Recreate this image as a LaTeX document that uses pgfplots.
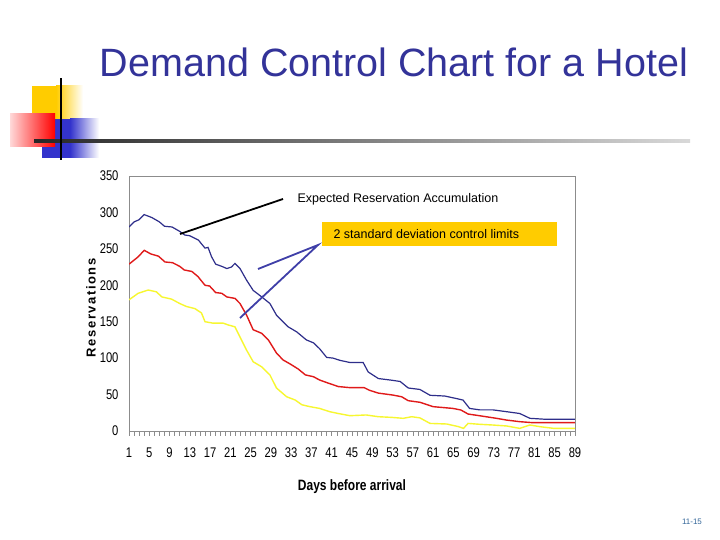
\documentclass[border=0pt]{standalone}
\usepackage{pgfplots}
\pgfplotsset{compat=1.18}
\usepackage{fontspec}
\setmainfont{Liberation Sans}
\newfontfamily\narrow[FakeStretch=0.8]{Liberation Sans}
\definecolor{navy}{HTML}{333399}
\definecolor{lineblue}{HTML}{2E2E8A}
\definecolor{linered}{HTML}{E01A1A}
\definecolor{lineyellow}{HTML}{F7F730}
\definecolor{boxyellow}{HTML}{FFCC00}
\definecolor{sqblue}{HTML}{3333CC}
\definecolor{arrowblue}{HTML}{3F3FA8}
\definecolor{pagenum}{HTML}{336699}

\pgfplotstableread{
day res
1 280
2 287
3 290
4 297
5.5 293
7 287
8 281
9.5 280
11 274
12 269
13 268
14.7 262
16 251
16.6 252
17.3 239
18.1 229
19.3 226
20.3 223
21.2 225
21.9 230
22.9 223
24.2 207
25.5 193
27.2 184
28.8 175
30.1 159
31.1 152
32.4 143
34.1 136
36 125
37.4 121
38.6 113
40 101
41.3 100
42.6 97
44.6 94
47.2 94
48.2 81
50.2 72
52.5 70
54.5 68
56.1 59
58.4 57
60.4 49
63.3 48
65.3 45
66.9 42.5
68.2 31
70.2 29
72.8 29
75.5 26.5
78.1 24
80.1 17.4
83.4 16
89 16
}\exptab

\pgfplotstableread{
day res
1 229
2.8 239
4 248
5.3 243
6.8 240
8.1 232
9.6 231
11 226
11.9 221
13.4 219
14.6 212
16 200
16.9 199
18.1 190
19.3 189
20.3 184
21.9 182
22.9 175
24.2 159
25.5 139
27.2 134
28.5 125
30.1 107
31.4 97.5
32.8 92
34.4 85
35.8 77
37.4 74.5
38.6 70
40.2 66
42.3 61
44.6 59.5
47.4 59.5
48.4 56
50.2 52
53 49.4
54.8 47
56.1 41.6
58.4 39.4
61 33.4
64.9 31
66.5 28.8
67.9 23.3
70.5 20.6
73.5 17.4
75.5 15
78.1 12.8
80.7 11.4
89 11.4
}\midtab

\pgfplotstableread{
day res
1 180
2.8 189
4.8 193.5
6.4 191
7.5 184
9.4 181
11 175
12.3 171
14 168
15.3 162
16 150
17.6 148
19.6 148
20.6 145.5
21.9 143
22.9 129
24.2 111
25.5 95
27.2 88
28.8 77
30.1 59
32.1 47
33.8 42.5
35.1 36
36.7 33.4
38.6 31
40.6 26.5
42.3 24
44.6 21
47.8 22
50.2 19.6
52.8 18.7
55.1 17.4
56.8 19.6
58.4 18
60.4 10.4
63.7 9.6
66 6
67 3.6
67.9 10.4
70.2 9.2
72.8 8.2
75.5 6.9
78.1 3.6
80.1 8.2
82 6
84.8 3.6
89 3.6
}\lowtab

\begin{document}
\begin{tikzpicture}[x=1pt,y=1pt]
% page
\fill[white] (0,0) rectangle (720,540);
% title
\node[anchor=base, text=navy, font=\fontsize{39.5}{46}\selectfont] at (394,463) {Demand Control Chart for a Hotel};
% decoration
\fill[boxyellow] (32,407) rectangle (56,454);
\shade[left color=boxyellow, right color=white] (56,407) rectangle (83,454);
\fill[sqblue] (42,382) rectangle (70,421);
\shade[left color=sqblue, right color=white] (70,382) rectangle (99,421);
\shade[left color=red!15, right color=red] (10,393) rectangle (55,426);
\shade[left color=black!85, right color=black!15] (34,397.8) rectangle (690,400.2);
\draw[black, line width=2.5pt] (61,380) -- (61,462);

\begin{axis}[
  at={(129pt,109pt)}, anchor=south west,
  scale only axis, width=446pt, height=255pt,
  xmin=1, xmax=89, ymin=0, ymax=350,
  xtick={1,5,...,89}, minor xtick={1,2,...,89},
  ytick={0,50,...,350},
  xtick pos=bottom, ytick pos=left,
  tick align=outside,
  major tick length=5pt, minor tick length=5pt,
  every tick/.style={black!45, line width=0.5pt},
  ytick style={draw=none},
  axis line style={black!45, line width=0.7pt},
  /pgf/number format/assume math mode=true,
  tick label style={font=\narrow\fontsize{14}{16}\selectfont},
  xticklabel style={yshift=-8pt},
  yticklabel style={xshift=-2pt},
  xlabel={\textbf{Days before arrival}},
  ylabel={\textbf{\addfontfeature{LetterSpace=12}Reservations}},
  xlabel style={font=\narrow\fontsize{15}{17}\selectfont, at={(rel axis cs:0.5,-0.235)}, anchor=base},
  ylabel style={font=\fontsize{13}{15}\selectfont, at={(rel axis cs:-0.085,0.486)}, anchor=center, rotate=0},
]
\addplot[lineyellow, line width=1.4pt] table[x=day,y=res] {\lowtab};
\addplot[linered, line width=1.4pt] table[x=day,y=res] {\midtab};
\addplot[lineblue, line width=1.2pt] table[x=day,y=res] {\exptab};
\end{axis}

% annotations
\node[anchor=base west, font=\fontsize{12.5}{14}\selectfont] at (294,337) {Expected Reservation Accumulation};
\draw[black, line width=1.8pt] (283,341) -- (180,306);
\fill[boxyellow] (322,294) rectangle (557,318);
\node[anchor=base west, font=\fontsize{12.5}{14}\selectfont] at (330,301) {2 standard deviation control limits};
\draw[arrowblue, line width=1.8pt] (258,271) -- (318,295) -- (240,222);
% page number
\node[text=pagenum, font=\fontsize{8}{9}\selectfont] at (692,18) {11-15};
\end{tikzpicture}
\end{document}
